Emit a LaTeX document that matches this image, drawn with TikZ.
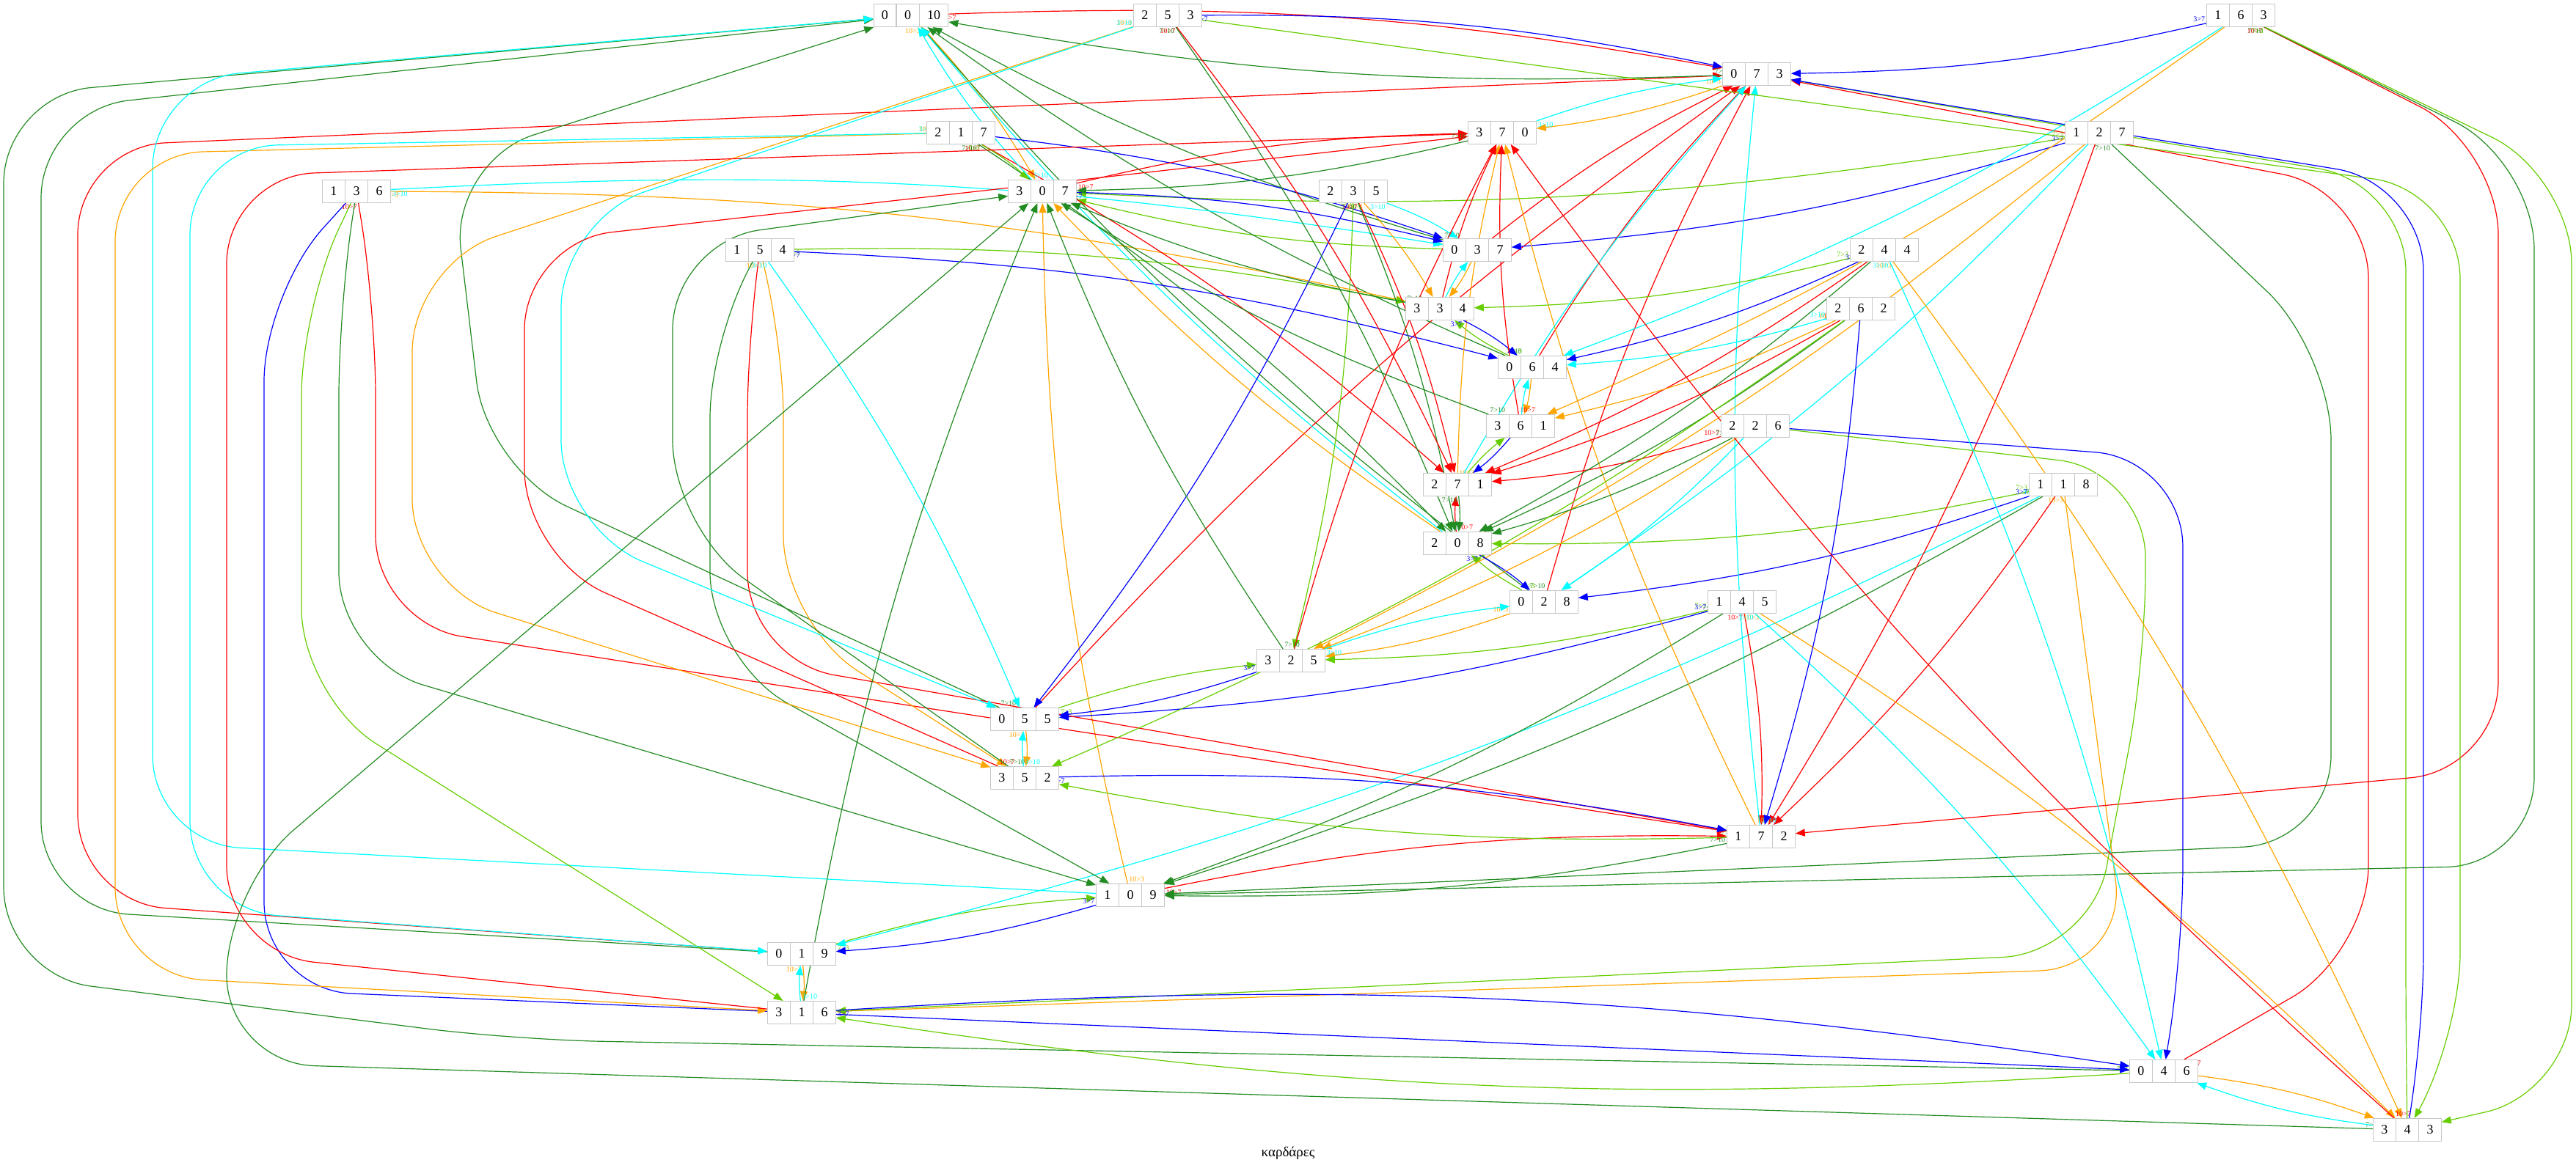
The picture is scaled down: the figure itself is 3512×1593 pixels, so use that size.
\documentclass[tikz,border=0pt]{standalone}
\usepackage{fontspec}
\setmainfont{Liberation Serif}
\usetikzlibrary{arrows.meta,shapes.multipart,backgrounds}

\definecolor{porange}{HTML}{FFA500}
\definecolor{pgreen}{HTML}{228B22}
\definecolor{plime}{HTML}{66CD00}
\definecolor{pcyan}{HTML}{00FFFF}

\begin{document}
\begin{tikzpicture}[x=0.2pt, y=-0.2pt, >={Triangle[length=2.6pt,width=2pt]},
    jugs/.style={rectangle split, rectangle split horizontal, rectangle split parts=3,
        draw=black!22, line width=0.24pt, fill=white, inner xsep=2.1pt, inner ysep=1.88pt,
        font=\fontsize{3.6}{3.6}\selectfont},
    pour/.style={->, line width=0.24pt, bend left=6, rounded corners=24pt},
    p10to7/.style={pour, red},
    p10to3/.style={pour, porange},
    p7to10/.style={pour, pgreen},
    p7to3/.style={pour, plime},
    p3to10/.style={pour, pcyan},
    p3to7/.style={pour, blue},
    tl/.style={at start, auto, swap, inner sep=0.3pt, font=\fontsize{2}{2}\selectfont}]

    \useasboundingbox (0,0) rectangle (3512,1593);

    % states, one rank every 80 units
    \node[jugs] (s0010) at (1242,21) {0\nodepart{two}0\nodepart{three}10};
    \node[jugs] (s253) at (1592,21) {2\nodepart{two}5\nodepart{three}3};
    \node[jugs] (s163) at (3055,21) {1\nodepart{two}6\nodepart{three}3};
    \node[jugs] (s073) at (2395,101) {0\nodepart{two}7\nodepart{three}3};
    \node[jugs] (s370) at (2048,181) {3\nodepart{two}7\nodepart{three}0};
    \node[jugs] (s217) at (1310,181) {2\nodepart{two}1\nodepart{three}7};
    \node[jugs] (s127) at (2862,181) {1\nodepart{two}2\nodepart{three}7};
    \node[jugs] (s136) at (486,261) {1\nodepart{two}3\nodepart{three}6};
    \node[jugs] (s307) at (1421,261) {3\nodepart{two}0\nodepart{three}7};
    \node[jugs] (s235) at (1845,261) {2\nodepart{two}3\nodepart{three}5};
    \node[jugs] (s037) at (2014,341) {0\nodepart{two}3\nodepart{three}7};
    \node[jugs] (s154) at (1036,341) {1\nodepart{two}5\nodepart{three}4};
    \node[jugs] (s244) at (2569,341) {2\nodepart{two}4\nodepart{three}4};
    \node[jugs] (s334) at (1963,421) {3\nodepart{two}3\nodepart{three}4};
    \node[jugs] (s262) at (2537,421) {2\nodepart{two}6\nodepart{three}2};
    \node[jugs] (s064) at (2089,501) {0\nodepart{two}6\nodepart{three}4};
    \node[jugs] (s361) at (2073,581) {3\nodepart{two}6\nodepart{three}1};
    \node[jugs] (s226) at (2393,581) {2\nodepart{two}2\nodepart{three}6};
    \node[jugs] (s271) at (1987,661) {2\nodepart{two}7\nodepart{three}1};
    \node[jugs] (s118) at (2813,661) {1\nodepart{two}1\nodepart{three}8};
    \node[jugs] (s208) at (1987,741) {2\nodepart{two}0\nodepart{three}8};
    \node[jugs] (s028) at (2105,821) {0\nodepart{two}2\nodepart{three}8};
    \node[jugs] (s145) at (2375,821) {1\nodepart{two}4\nodepart{three}5};
    \node[jugs] (s325) at (1760,901) {3\nodepart{two}2\nodepart{three}5};
    \node[jugs] (s055) at (1397,981) {0\nodepart{two}5\nodepart{three}5};
    \node[jugs] (s352) at (1397,1061) {3\nodepart{two}5\nodepart{three}2};
    \node[jugs] (s172) at (2401,1141) {1\nodepart{two}7\nodepart{three}2};
    \node[jugs] (s109) at (1541,1221) {1\nodepart{two}0\nodepart{three}9};
    \node[jugs] (s019) at (1093,1301) {0\nodepart{two}1\nodepart{three}9};
    \node[jugs] (s316) at (1093,1381) {3\nodepart{two}1\nodepart{three}6};
    \node[jugs] (s046) at (2950,1461) {0\nodepart{two}4\nodepart{three}6};
    \node[jugs] (s343) at (3282,1541) {3\nodepart{two}4\nodepart{three}3};

    \node[font=\fontsize{3.8}{3.8}\selectfont] (title) at (1756,1573) {καρδάρες};

    \begin{pgfonlayer}{background}
    % 3-jug empty
    \draw[p10to7] (s0010) to node[tl] {10>7} (s073);
    \draw[p10to3] (s0010) to node[tl] {10>3} (s307);
    \draw[p10to7] (s019) -- node[tl] {10>7} (106,1230) -- (106,200) -- (s073);
    \draw[p10to3] (s019) to node[tl] {10>3} (s316);
    \draw[p7to10] (s019) -- node[tl] {7>10} (56,1240) -- (56,150) -- (s0010);
    \draw[p7to3] (s019) to node[tl] {7>3} (s109);
    \draw[p10to7] (s028) to node[tl] {10>7} (s073);
    \draw[p10to3] (s028) to node[tl] {10>3} (s325);
    \draw[p7to10] (s028) to node[tl] {7>10} (s0010);
    \draw[p7to3] (s028) to node[tl] {7>3} (s208);
    \draw[p10to7] (s037) to node[tl] {10>7} (s073);
    \draw[p10to3] (s037) to node[tl] {10>3} (s334);
    \draw[p7to10] (s037) to node[tl] {7>10} (s0010);
    \draw[p7to3] (s037) to node[tl] {7>3} (s307);
    \draw[p10to7] (s046) -- node[tl] {10>7} (3229,1300) -- (3229,260) -- (s073);
    \draw[p10to3] (s046) to node[tl] {10>3} (s343);
    \draw[p7to10] (s046) -- node[tl] {7>10} (700,1418) -- (5,1330) -- (5,130) -- (s0010);
    \draw[p7to3] (s046) to node[tl] {7>3} (s316);
    \draw[p10to7] (s055) to node[tl] {10>7} (s073);
    \draw[p10to3] (s055) to node[tl] {10>3} (s352);
    \draw[p7to10] (s055) -- node[tl] {7>10} (664,640) -- (614,220) -- (s0010);
    \draw[p7to3] (s055) to node[tl] {7>3} (s325);
    \draw[p10to7] (s064) to node[tl] {10>7} (s073);
    \draw[p10to3] (s064) to node[tl] {10>3} (s361);
    \draw[p7to10] (s064) to node[tl] {7>10} (s0010);
    \draw[p7to3] (s064) to node[tl] {7>3} (s334);
    \draw[p10to3] (s073) to node[tl] {10>3} (s370);
    \draw[p7to10] (s073) to node[tl] {7>10} (s0010);
    \draw[p7to3] (s073) -- node[tl] {7>3} (3280,250) -- (3280,1430) -- (s343);

    % 3-jug holds 1
    \draw[p10to7] (s109) to node[tl] {10>7} (s172);
    \draw[p10to3] (s109) to node[tl] {10>3} (s307);
    \draw[p3to10] (s109) -- node[tl] {3>10} (208,1150) -- (208,110) -- (s0010);
    \draw[p3to7] (s109) to node[tl] {3>7} (s019);
    \draw[p10to7] (s118) to node[tl] {10>7} (s172);
    \draw[p10to3] (s118) -- node[tl] {10>3} (2900,1320) -- (s316);
    \draw[p7to10] (s118) to node[tl] {7>10} (s109);
    \draw[p7to3] (s118) to node[tl] {7>3} (s208);
    \draw[p3to10] (s118) to node[tl] {3>10} (s019);
    \draw[p3to7] (s118) to node[tl] {3>7} (s028);
    \draw[p10to7] (s127) to node[tl] {10>7} (s172);
    \draw[p10to3] (s127) to node[tl] {10>3} (s325);
    \draw[p7to10] (s127) -- node[tl] {7>10} (3178,480) -- (3178,1150) -- (s109);
    \draw[p7to3] (s127) to node[tl] {7>3} (s307);
    \draw[p3to10] (s127) to node[tl] {3>10} (s028);
    \draw[p3to7] (s127) to node[tl] {3>7} (s037);
    \draw[p10to7] (s136) -- node[tl] {10>7} (512,420) -- (512,850) -- (s172);
    \draw[p10to3] (s136) to node[tl] {10>3} (s334);
    \draw[p7to10] (s136) -- node[tl] {7>10} (462,420) -- (462,900) -- (s109);
    \draw[p7to3] (s136) -- node[tl] {7>3} (411,420) -- (411,950) -- (s316);
    \draw[p3to10] (s136) to node[tl] {3>10} (s037);
    \draw[p3to7] (s136) -- node[tl] {3>7} (360,400) -- (360,1350) -- (s046);
    \draw[p10to7] (s145) to node[tl] {10>7} (s172);
    \draw[p10to3] (s145) to node[tl] {10>3} (s343);
    \draw[p7to10] (s145) to node[tl] {7>10} (s109);
    \draw[p7to3] (s145) to node[tl] {7>3} (s325);
    \draw[p3to10] (s145) to node[tl] {3>10} (s046);
    \draw[p3to7] (s145) to node[tl] {3>7} (s055);
    \draw[p10to7] (s154) -- node[tl] {10>7} (1019,450) -- (1019,900) -- (s172);
    \draw[p10to3] (s154) -- node[tl] {10>3} (1068,450) -- (1068,850) -- (s352);
    \draw[p7to10] (s154) -- node[tl] {7>10} (968,450) -- (968,900) -- (s109);
    \draw[p7to3] (s154) to node[tl] {7>3} (s334);
    \draw[p3to10] (s154) to node[tl] {3>10} (s055);
    \draw[p3to7] (s154) to node[tl] {3>7} (s064);
    \draw[p10to7] (s163) -- node[tl] {10>7} (3406,200) -- (3406,1050) -- (s172);
    \draw[p10to3] (s163) to node[tl] {10>3} (s361);
    \draw[p7to10] (s163) -- node[tl] {7>10} (3455,220) -- (3455,1180) -- (s109);
    \draw[p7to3] (s163) -- node[tl] {7>3} (3506,240) -- (3506,1490) -- (s343);
    \draw[p3to10] (s163) to node[tl] {3>10} (s064);
    \draw[p3to7] (s163) to node[tl] {3>7} (s073);
    \draw[p10to3] (s172) to node[tl] {10>3} (s370);
    \draw[p7to10] (s172) to node[tl] {7>10} (s109);
    \draw[p7to3] (s172) to node[tl] {7>3} (s352);
    \draw[p3to10] (s172) to node[tl] {3>10} (s073);

    % 3-jug holds 2
    \draw[p10to7] (s208) to node[tl] {10>7} (s271);
    \draw[p10to3] (s208) to node[tl] {10>3} (s307);
    \draw[p3to10] (s208) to node[tl] {3>10} (s0010);
    \draw[p3to7] (s208) to node[tl] {3>7} (s028);
    \draw[p10to7] (s217) to node[tl] {10>7} (s271);
    \draw[p10to3] (s217) -- node[tl] {10>3} (157,210) -- (157,1330) -- (s316);
    \draw[p7to10] (s217) to node[tl] {7>10} (s208);
    \draw[p7to3] (s217) to node[tl] {7>3} (s307);
    \draw[p3to10] (s217) -- node[tl] {3>10} (259,200) -- (259,1240) -- (s019);
    \draw[p3to7] (s217) to node[tl] {3>7} (s037);
    \draw[p10to7] (s226) to node[tl] {10>7} (s271);
    \draw[p10to3] (s226) to node[tl] {10>3} (s325);
    \draw[p7to10] (s226) to node[tl] {7>10} (s208);
    \draw[p7to3] (s226) -- node[tl] {7>3} (2925,641) -- (2925,900) -- (2850,1300) -- (s316);
    \draw[p3to10] (s226) to node[tl] {3>10} (s028);
    \draw[p3to7] (s226) -- node[tl] {3>7} (2976,626) -- (2976,1300) -- (s046);
    \draw[p10to7] (s235) to node[tl] {10>7} (s271);
    \draw[p10to3] (s235) to node[tl] {10>3} (s334);
    \draw[p7to10] (s235) to node[tl] {7>10} (s208);
    \draw[p7to3] (s235) to node[tl] {7>3} (s325);
    \draw[p3to10] (s235) to node[tl] {3>10} (s037);
    \draw[p3to7] (s235) to node[tl] {3>7} (s055);
    \draw[p10to7] (s244) to node[tl] {10>7} (s271);
    \draw[p10to3] (s244) to node[tl] {10>3} (s343);
    \draw[p7to10] (s244) to node[tl] {7>10} (s208);
    \draw[p7to3] (s244) to node[tl] {7>3} (s334);
    \draw[p3to10] (s244) to node[tl] {3>10} (s046);
    \draw[p3to7] (s244) to node[tl] {3>7} (s064);
    \draw[p10to7] (s253) to node[tl] {10>7} (s271);
    \draw[p10to3] (s253) -- node[tl] {10>3} (562,360) -- (562,800) -- (s352);
    \draw[p7to10] (s253) to node[tl] {7>10} (s208);
    \draw[p7to3] (s253) -- node[tl] {7>3} (3354,260) -- (3354,1420) -- (s343);
    \draw[p3to10] (s253) -- node[tl] {3>10} (765,300) -- (765,720) -- (s055);
    \draw[p3to7] (s253) to node[tl] {3>7} (s073);
    \draw[p10to7] (s262) to node[tl] {10>7} (s271);
    \draw[p10to3] (s262) to node[tl] {10>3} (s361);
    \draw[p7to10] (s262) to node[tl] {7>10} (s208);
    \draw[p7to3] (s262) to node[tl] {7>3} (s352);
    \draw[p3to10] (s262) to node[tl] {3>10} (s064);
    \draw[p3to7] (s262) to node[tl] {3>7} (s172);
    \draw[p10to3] (s271) to node[tl] {10>3} (s370);
    \draw[p7to10] (s271) to node[tl] {7>10} (s208);
    \draw[p7to3] (s271) to node[tl] {7>3} (s361);
    \draw[p3to10] (s271) to node[tl] {3>10} (s073);

    % 3-jug full
    \draw[p10to7] (s307) to node[tl] {10>7} (s370);
    \draw[p3to10] (s307) to node[tl] {3>10} (s0010);
    \draw[p3to7] (s307) to node[tl] {3>7} (s037);
    \draw[p10to7] (s316) -- node[tl] {10>7} (309,1300) -- (309,240) -- (s370);
    \draw[p7to10] (s316) to node[tl] {7>10} (s307);
    \draw[p3to10] (s316) to node[tl] {3>10} (s019);
    \draw[p3to7] (s316) to node[tl] {3>7} (s046);
    \draw[p10to7] (s325) to node[tl] {10>7} (s370);
    \draw[p7to10] (s325) to node[tl] {7>10} (s307);
    \draw[p3to10] (s325) to node[tl] {3>10} (s028);
    \draw[p3to7] (s325) to node[tl] {3>7} (s055);
    \draw[p10to7] (s334) to node[tl] {10>7} (s370);
    \draw[p7to10] (s334) to node[tl] {7>10} (s307);
    \draw[p3to10] (s334) to node[tl] {3>10} (s037);
    \draw[p3to7] (s334) to node[tl] {3>7} (s064);
    \draw[p10to7] (s343) to node[tl] {10>7} (s370);
    \draw[p7to10] (s343) -- node[tl] {7>10} (309,1450) -- (309,1210) -- (s307);
    \draw[p3to10] (s343) to node[tl] {3>10} (s046);
    \draw[p3to7] (s343) -- node[tl] {3>7} (3304,1420) -- (3304,250) -- (s073);
    \draw[p10to7] (s352) -- node[tl] {10>7} (715,760) -- (715,330) -- (s370);
    \draw[p7to10] (s352) -- node[tl] {7>10} (917,720) -- (917,330) -- (s307);
    \draw[p3to10] (s352) to node[tl] {3>10} (s055);
    \draw[p3to7] (s352) to node[tl] {3>7} (s172);
    \draw[p10to7] (s361) to node[tl] {10>7} (s370);
    \draw[p7to10] (s361) to node[tl] {7>10} (s307);
    \draw[p3to10] (s361) to node[tl] {3>10} (s064);
    \draw[p3to7] (s361) to node[tl] {3>7} (s271);
    \draw[p7to10] (s370) to node[tl] {7>10} (s307);
    \draw[p3to10] (s370) to node[tl] {3>10} (s073);
    \end{pgfonlayer}

\end{tikzpicture}
\end{document}
